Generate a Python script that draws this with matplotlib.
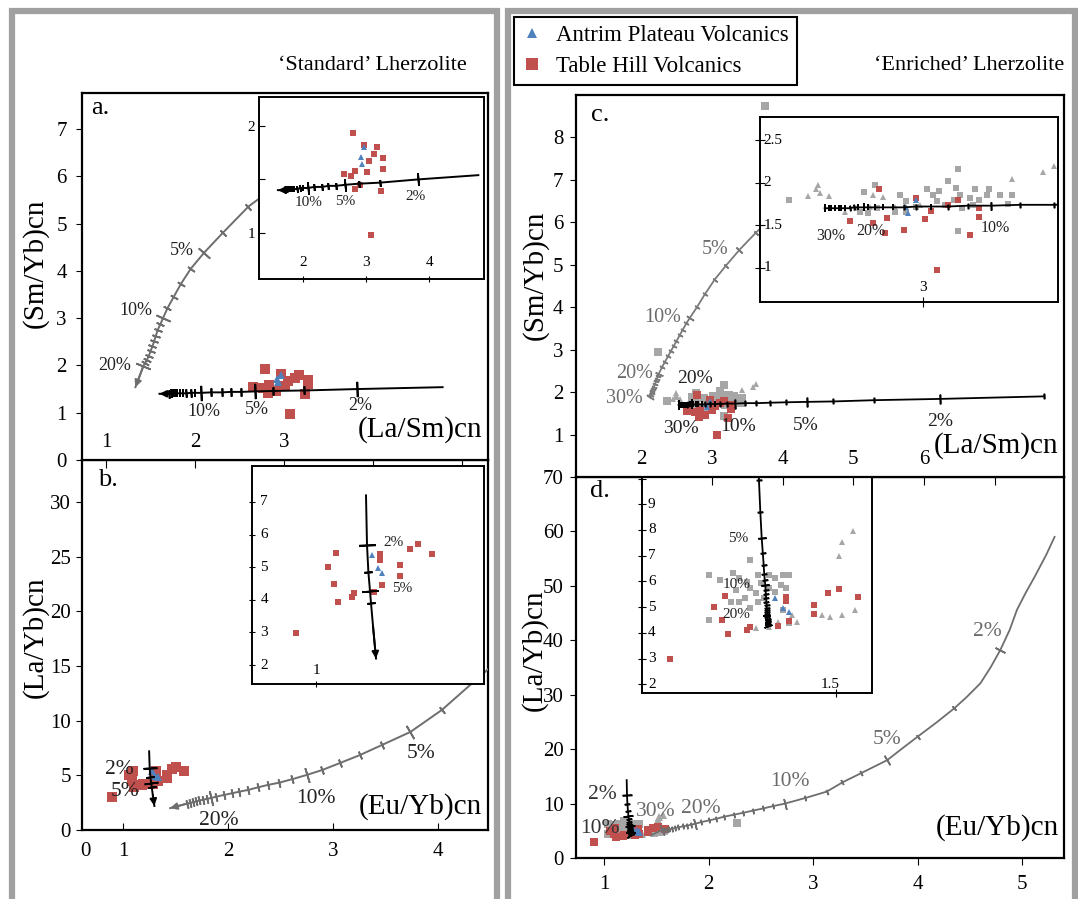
import numpy as np
import matplotlib
matplotlib.use("Agg")
import matplotlib.pyplot as plt
from matplotlib.patches import Rectangle
from matplotlib.transforms import blended_transform_factory

plt.rcParams['font.family'] = ['Liberation Serif', 'DejaVu Serif']

W, H = 1078, 899

# --- sample data -----------------------------------------------------------
# Table Hill Volcanics / Antrim Plateau Volcanics : (La/Sm)cn vs (Sm/Yb)cn
th_lasm = [2.79, 2.97, 3.17, 3.12, 3.27, 3.04, 3.27, 3.01, 2.83, 2.65, 2.76, 2.91, 2.82, 3.23, 3.07]
th_smyb = [1.93, 1.82, 1.80, 1.74, 1.70, 1.67, 1.60, 1.57, 1.58, 1.55, 1.53, 1.45, 1.41, 1.39, 0.98]
ap_lasm = [2.97, 2.92, 2.93]
ap_smyb = [1.80, 1.71, 1.64]

# (Eu/Yb)cn vs (La/Yb)cn
th_euyb = [0.90, 1.10, 1.06, 1.09, 1.11, 1.18, 1.19, 1.29, 1.32, 1.32, 1.33, 1.42, 1.42, 1.47, 1.51, 1.58]
th_layb = [2.98, 5.44, 5.02, 4.49, 3.94, 4.10, 4.22, 4.25, 5.40, 5.22, 4.45, 5.07, 4.73, 5.55, 5.72, 5.40]
ap_euyb = [1.28, 1.31, 1.33]
ap_layb = [5.37, 4.98, 4.81]

# comparison data (grey) for the 'enriched' panels
gs_lasm = [2.36, 2.72, 2.77, 2.70, 2.74, 2.89, 2.92, 3.02, 3.05, 3.08, 3.12, 3.17, 3.16, 3.18, 3.23,
           3.25, 3.32, 3.31, 3.37, 3.43, 3.41, 3.17, 2.87, 2.92, 2.97, 3.07, 3.11, 3.15, 3.19, 3.24,
           3.27, 2.78, 2.24, 3.75]
gs_smyb = [1.80, 1.89, 1.97, 1.66, 1.64, 1.86, 1.78, 1.92, 1.86, 1.90, 2.02, 2.16, 1.94, 1.86, 1.82,
           1.93, 1.92, 1.86, 1.85, 1.85, 1.75, 1.43, 1.66, 1.66, 1.72, 1.78, 1.74, 1.80, 1.70, 1.74,
           1.80, 1.70, 2.94, 8.75]
gt_lasm = [2.45, 2.49, 2.50, 2.51, 2.55, 2.68, 2.76, 2.81, 2.87, 3.43, 3.58, 3.63, 2.63, 2.75, 2.99]
gt_smyb = [1.84, 1.92, 1.97, 1.88, 1.84, 1.70, 1.86, 1.83, 1.72, 2.04, 2.13, 2.20, 1.66, 1.72, 1.74]

gs_euyb = [1.04, 1.08, 1.04, 1.19, 1.13, 1.15, 1.14, 1.17, 1.19, 1.21, 1.22, 1.23, 1.26, 1.28, 1.31,
           1.33, 1.30, 1.32, 1.28, 1.15, 1.26, 1.32, 1.19, 1.12, 1.26, 1.33, 1.31, 1.24, 1.18, 1.22, 2.27]
gs_layb = [6.25, 6.06, 4.50, 6.84, 6.31, 6.12, 5.67, 5.35, 5.74, 5.54, 5.21, 5.93, 6.25, 6.12, 6.25,
           6.25, 5.86, 5.74, 5.60, 5.21, 5.74, 5.35, 4.96, 5.21, 4.44, 4.37, 4.89, 5.35, 5.99, 6.25, 6.40]
gt_euyb = [1.21, 1.34, 1.36, 1.45, 1.48, 1.52, 1.57, 1.51, 1.52, 1.56, 1.29, 1.26]
gt_layb = [4.18, 4.70, 4.44, 4.70, 4.63, 4.70, 4.89, 6.97, 7.55, 7.97, 4.44, 4.24]

# --- melting curves (ticks: 0 none, 1 minor, 2 major) ----------------------
a_blk_x = [4.78, 3.82, 3.22, 2.88, 2.67, 2.52, 2.40, 2.30, 2.18, 2.07, 2.00, 1.95, 1.90, 1.86, 1.83,
           1.80, 1.77, 1.75, 1.73, 1.71, 1.60]
a_blk_y = [1.54, 1.50, 1.47, 1.46, 1.45, 1.44, 1.44, 1.43, 1.43, 1.42, 1.42, 1.42, 1.41, 1.41, 1.41,
           1.41, 1.41, 1.41, 1.41, 1.40, 1.40]
a_blk_t = [0, 2, 1, 1, 2, 1, 1, 1, 1, 2, 1, 1, 1, 1, 1, 1, 1, 1, 1, 1, 0]

a_gry_x = [2.95, 2.60, 2.31, 2.10, 1.95, 1.84, 1.76, 1.69, 1.64, 1.61, 1.58, 1.56, 1.54, 1.52, 1.50,
           1.48, 1.46, 1.44, 1.42, 1.33]
a_gry_y = [5.85, 5.36, 4.80, 4.38, 4.04, 3.72, 3.45, 3.21, 3.00, 2.87, 2.75, 2.63, 2.51, 2.40, 2.30,
           2.20, 2.12, 2.05, 1.99, 1.54]
a_gry_t = [0, 1, 1, 2, 1, 1, 1, 1, 2, 1, 1, 1, 1, 1, 1, 1, 1, 1, 2, 0]

b_blk_x = [1.250, 1.255, 1.262, 1.270, 1.275, 1.285, 1.300]
b_blk_y = [7.20, 5.68, 4.84, 4.27, 3.90, 3.20, 2.20]
b_blk_t = [0, 2, 1, 2, 1, 0, 0]

b_gry_x = [4.55, 4.04, 3.74, 3.47, 3.26, 3.07, 2.90, 2.75, 2.61, 2.49, 2.38, 2.29, 2.19, 2.11, 2.04,
           1.96, 1.89, 1.84, 1.80, 1.76, 1.73, 1.70, 1.67, 1.64, 1.61, 1.45]
b_gry_y = [15.3, 10.98, 8.97, 7.78, 6.86, 6.13, 5.49, 5.03, 4.64, 4.33, 4.12, 3.91, 3.66, 3.51, 3.36,
           3.20, 3.05, 2.93, 2.85, 2.77, 2.70, 2.62, 2.55, 2.48, 2.41, 2.00]
b_gry_t = [0, 1, 2, 1, 1, 1, 1, 2, 1, 1, 1, 1, 1, 1, 1, 1, 1, 2, 1, 1, 1, 1, 1, 1, 1, 0]

c_blk_x = [7.70, 6.23, 5.30, 4.72, 4.34, 4.05, 3.82, 3.63, 3.47, 3.33, 3.22, 3.12, 3.04, 2.97, 2.91,
           2.86, 2.81, 2.77, 2.74, 2.72, 2.69, 2.67, 2.65, 2.63, 2.61, 2.60, 2.58, 2.56, 2.55, 2.53]
c_blk_y = [1.90, 1.84, 1.81, 1.78, 1.77, 1.76, 1.75, 1.74, 1.74, 1.73, 1.73, 1.72, 1.72, 1.72, 1.71,
           1.71, 1.71, 1.71, 1.71, 1.71, 1.71, 1.71, 1.70, 1.70, 1.70, 1.70, 1.70, 1.70, 1.70, 1.70]
c_blk_t = [1, 2, 1, 1, 2, 1, 1, 1, 1, 2, 1, 1, 1, 1, 1, 1, 1, 1, 1, 2, 1, 1, 1, 1, 1, 1, 1, 1, 1, 2]

c_gry_x = [3.90, 3.62, 3.39, 3.20, 3.04, 2.90, 2.79, 2.69, 2.64, 2.59, 2.55, 2.50, 2.46, 2.42, 2.38,
           2.34, 2.30, 2.25, 2.24, 2.22, 2.21, 2.20, 2.18, 2.17, 2.16, 2.15, 2.14, 2.12]
c_gry_y = [6.20, 5.75, 5.35, 4.98, 4.65, 4.30, 4.00, 3.75, 3.62, 3.47, 3.35, 3.20, 3.08, 2.96, 2.84,
           2.72, 2.60, 2.43, 2.38, 2.31, 2.25, 2.19, 2.13, 2.07, 2.02, 1.97, 1.93, 1.88]
c_gry_t = [1, 1, 2, 1, 1, 1, 1, 2, 1, 1, 1, 1, 1, 1, 1, 1, 1, 2, 1, 1, 1, 1, 1, 1, 1, 1, 1, 2]

d_blk_x = [1.215, 1.218, 1.222, 1.227, 1.232, 1.236, 1.239, 1.241, 1.243, 1.245, 1.246, 1.247, 1.248,
           1.249, 1.250, 1.250, 1.251, 1.251, 1.252, 1.252, 1.252, 1.253, 1.253, 1.253, 1.254, 1.254,
           1.254, 1.254, 1.254, 1.255]
d_blk_y = [14.3, 11.6, 9.95, 8.70, 7.68, 7.10, 6.65, 6.30, 6.05, 5.85, 5.65, 5.50, 5.35, 5.20, 5.08,
           4.97, 4.88, 4.80, 4.73, 4.66, 4.60, 4.55, 4.50, 4.46, 4.42, 4.38, 4.35, 4.32, 4.29, 4.26]
d_blk_t = [0, 2, 1, 1, 2, 1, 1, 1, 1, 2, 1, 1, 1, 1, 1, 1, 1, 1, 1, 2, 1, 1, 1, 1, 1, 1, 1, 1, 1, 2]

d_gry_x = [5.31, 5.23, 5.12, 5.03, 4.95, 4.88, 4.79, 4.70, 4.60, 4.47, 4.35, 4.18, 4.00, 3.85, 3.71,
           3.46, 3.28, 3.13, 2.92, 2.73, 2.62, 2.52, 2.42, 2.33, 2.24, 2.15, 2.07, 2.00, 1.93, 1.87,
           1.83, 1.79, 1.75, 1.71, 1.68, 1.65, 1.62, 1.60, 1.57, 1.55, 1.45]
d_gry_y = [59.0, 55.7, 51.7, 48.6, 45.6, 41.9, 38.2, 35.1, 32.1, 29.6, 27.5, 24.9, 22.3, 20.1, 18.0,
           15.6, 13.9, 12.2, 11.0, 10.0, 9.55, 9.1, 8.7, 8.3, 7.95, 7.6, 7.2, 6.9, 6.6, 6.3,
           6.1, 5.95, 5.8, 5.65, 5.5, 5.4, 5.3, 5.2, 5.15, 5.1, 4.2]
d_gry_t = [0, 0, 0, 0, 0, 0, 2, 0, 0, 0, 1, 0, 1, 0, 2, 1, 1, 1, 1, 2, 1, 1, 1, 1, 1, 1, 1, 1, 1, 2,
           1, 1, 1, 1, 1, 1, 1, 1, 1, 2, 0]

RED, BLUE, GREY = '#c0504d', '#4f81bd', '#a6a6a6'
CURVE = '#6e6e6e'


def rect(x0, y0, x1, y1):
    return [x0 / W, 1 - y1 / H, (x1 - x0) / W, (y1 - y0) / H]


def draw_curve(ax, xs, ys, ticks, color, lw=1.4, minor=6, major=11, arrow=False):
    ax.plot(xs, ys, color=color, lw=lw, zorder=5)
    pts = ax.transData.transform(np.column_stack([xs, ys]))
    n = len(xs)
    for i, t in enumerate(ticks):
        if not t:
            continue
        d = pts[min(i + 1, n - 1)] - pts[max(i - 1, 0)]
        ang = np.degrees(np.arctan2(d[1], d[0]))
        ax.plot(xs[i], ys[i], ls='none', marker=(2, 2, ang), ms=major if t == 2 else minor,
                mec=color, mew=lw * 0.9, zorder=5)
    if arrow:
        ax.annotate('', xy=(xs[-1], ys[-1]), xytext=(xs[-2], ys[-2]), zorder=5,
                    arrowprops=dict(arrowstyle='-|>', color=color, lw=lw, mutation_scale=10,
                                    shrinkA=0, shrinkB=0))


def scatter_all(ax, x_th, y_th, x_ap, y_ap, ms, xs_g=None, ys_g=None, xt_g=None, yt_g=None):
    if xs_g is not None:
        ax.plot(xs_g, ys_g, 's', color=GREY, ms=ms, mew=0, zorder=3)
        ax.plot(xt_g, yt_g, '^', color=GREY, ms=ms * 0.85, mew=0, zorder=3)
    h1 = ax.plot(x_th, y_th, 's', color=RED, ms=ms, mew=0, zorder=3, label='Table Hill Volcanics')[0]
    h2 = ax.plot(x_ap, y_ap, '^', color=BLUE, ms=ms * 0.85, mew=0, zorder=4,
                 label='Antrim Plateau Volcanics')[0]
    return h1, h2


def labels(ax, txts, xs, ys, fs, color='#222222'):
    for t, x, y in zip(txts, xs, ys):
        ax.text(x, y, t, fontsize=fs, color=color, ha='center', va='center', zorder=6)


def xlab_inside(ax, vals, txts, frac, fs):
    tr = blended_transform_factory(ax.transData, ax.transAxes)
    for v, t in zip(vals, txts):
        ax.text(v, frac, t, transform=tr, fontsize=fs, ha='center', va='center', zorder=6)


def ylab_inside(ax, vals, txts, frac, fs):
    tr = blended_transform_factory(ax.transAxes, ax.transData)
    for v, t in zip(vals, txts):
        ax.text(frac, v, t, transform=tr, fontsize=fs, ha='left', va='center', zorder=6)


def frame(ax, lw=1.5):
    for s in ax.spines.values():
        s.set_linewidth(lw)
        s.set_color('black')


fig = plt.figure(figsize=(W / 100, H / 100), dpi=100)

# grey panel frames
for x0, x1 in [(11.5, 496.5), (508, 1075)]:
    fig.add_artist(Rectangle((x0 / W, -0.05), (x1 - x0) / W, 1.05 - 11 / H, transform=fig.transFigure,
                             fill=False, ec='#a0a0a0', lw=4.5))

# main axes
ax_b = fig.add_axes(rect(82, 460, 488, 830), zorder=1)
ax_a = fig.add_axes(rect(82, 93, 488, 460), zorder=2)
ax_d = fig.add_axes(rect(576, 477, 1064, 858), zorder=1)
in_d = fig.add_axes(rect(642, 477, 872, 693), zorder=2)
ax_c = fig.add_axes(rect(576, 95, 1064, 477), zorder=3)
in_a = fig.add_axes(rect(259, 97, 484, 279), zorder=4)
in_b = fig.add_axes(rect(252, 466, 484, 684), zorder=4)
in_c = fig.add_axes(rect(760, 117, 1058, 302), zorder=4)

ax_a.set_xlim(0.73, 5.29); ax_a.set_ylim(0, 7.76)
ax_b.set_xlim(0.61, 4.48); ax_b.set_ylim(0, 33.85)
ax_c.set_xlim(1.08, 7.98); ax_c.set_ylim(0, 9.0)
ax_d.set_xlim(0.73, 5.40); ax_d.set_ylim(0, 70)
in_a.set_xlim(1.30, 4.87); in_a.set_ylim(0.57, 2.27)
in_b.set_xlim(0.68, 1.84); in_b.set_ylim(1.42, 8.1)
in_c.set_xlim(2.22, 3.65); in_c.set_ylim(0.60, 2.77)
in_d.set_xlim(0.80, 1.63); in_d.set_ylim(1.66, 10.06)

for ax in [ax_a, ax_b, ax_c, ax_d]:
    frame(ax, 1.6)
for ax in [in_a, in_b, in_c, in_d]:
    frame(ax, 1.4)

# ---- panel a
scatter_all(ax_a, th_lasm, th_smyb, ap_lasm, ap_smyb, 6.5)
draw_curve(ax_a, a_blk_x, a_blk_y, a_blk_t, 'black', arrow=True)
draw_curve(ax_a, a_gry_x, a_gry_y, a_gry_t, CURVE, arrow=True)
labels(ax_a, ['2%', '5%', '10%'], [3.85, 2.69, 2.10], [1.16, 1.07, 1.02], 13)
labels(ax_a, ['5%', '10%', '20%'], [1.85, 1.33, 1.10], [4.42, 3.17, 2.00], 13)
ax_a.set_yticks(range(0, 8))
ax_a.set_xticks([1, 2, 3, 4, 5])
ax_a.tick_params(axis='y', direction='out', length=4, pad=7, labelsize=15)
ax_a.tick_params(axis='x', direction='out', length=6, labelbottom=False)
xlab_inside(ax_a, [1, 2, 3], ['1', '2', '3'], 0.049, 15)

scatter_all(in_a, th_lasm, th_smyb, ap_lasm, ap_smyb, 4.8)
draw_curve(in_a, a_blk_x, a_blk_y, a_blk_t, 'black', minor=5, major=9, arrow=True)
labels(in_a, ['10%', '5%', '2%'], [2.08, 2.67, 3.78], [1.28, 1.29, 1.34], 11)
in_a.set_yticks([1, 1.5, 2])
in_a.set_yticklabels(['1', '', '2'])
in_a.set_xticks([2, 3, 4])
in_a.tick_params(axis='y', direction='in', length=4, pad=3, labelsize=11)
in_a.tick_params(axis='x', direction='inout', length=5, labelbottom=False)
xlab_inside(in_a, [2, 3, 4], ['2', '3', '4'], 0.093, 11)

# ---- panel b
scatter_all(ax_b, th_euyb, th_layb, ap_euyb, ap_layb, 6.5)
draw_curve(ax_b, b_gry_x, b_gry_y, b_gry_t, CURVE, arrow=True)
draw_curve(ax_b, b_blk_x, b_blk_y, b_blk_t, 'black', minor=6, major=10, arrow=True)
labels(ax_b, ['2%', '5%'], [0.97, 1.02], [5.5, 3.5], 15.5)
labels(ax_b, ['5%', '10%', '20%'], [3.84, 2.84, 1.91], [7.0, 2.9, 0.9], 15.5)
ax_b.set_yticks(range(0, 31, 5))
ax_b.set_xticks([0.64, 1, 2, 3, 4])
ax_b.set_xticklabels(['0', '1', '2', '3', '4'])
ax_b.tick_params(axis='y', direction='out', length=4, pad=4, labelsize=15)
ax_b.tick_params(axis='x', direction='in', length=5, pad=9, labelsize=15)
ax_b.xaxis.get_major_ticks()[0].tick1line.set_visible(False)

scatter_all(in_b, th_euyb, th_layb, ap_euyb, ap_layb, 4.8)
draw_curve(in_b, b_blk_x, b_blk_y, b_blk_t, 'black', minor=6, major=12, arrow=True)
labels(in_b, ['2%', '5%'], [1.39, 1.43], [5.76, 4.35], 11)
in_b.set_yticks(range(2, 8))
in_b.set_xticks([1])
in_b.tick_params(direction='inout', length=5, labelleft=False, labelbottom=False)
ylab_inside(in_b, range(2, 8), [str(v) for v in range(2, 8)], 0.036, 11)
xlab_inside(in_b, [1], ['1'], 0.064, 11)

# ---- panel c
h_th, h_ap = scatter_all(ax_c, th_lasm, th_smyb, ap_lasm, ap_smyb, 5.5, gs_lasm, gs_smyb, gt_lasm, gt_smyb)
draw_curve(ax_c, c_gry_x, c_gry_y, c_gry_t, '#7a7a7a', lw=1.3, minor=4, major=6)
draw_curve(ax_c, c_blk_x, c_blk_y, c_blk_t, 'black', lw=1.3, minor=4, major=7)
labels(ax_c, ['20%', '30%', '10%', '5%', '2%'], [2.76, 2.56, 3.37, 4.33, 6.23],
       [2.32, 1.14, 1.18, 1.22, 1.30], 14)
labels(ax_c, ['5%', '10%', '20%', '30%'], [3.05, 2.31, 1.91, 1.76], [5.37, 3.75, 2.43, 1.85], 14.5,
       color='#6b6b6b')
ax_c.set_yticks(range(1, 9))
ax_c.set_xticks(range(2, 8))
ax_c.tick_params(axis='y', direction='out', length=4, pad=5, labelsize=15)
ax_c.tick_params(axis='x', direction='out', length=6, labelbottom=False)
xlab_inside(ax_c, range(2, 7), ['2', '3', '4', '5', '6'], 0.045, 15)

scatter_all(in_c, th_lasm, th_smyb, ap_lasm, ap_smyb, 4.8, gs_lasm, gs_smyb, gt_lasm, gt_smyb)
draw_curve(in_c, c_blk_x, c_blk_y, c_blk_t, 'black', lw=1.3, minor=4, major=6)
labels(in_c, ['30%', '20%', '10%'], [2.56, 2.75, 3.35], [1.37, 1.43, 1.47], 11.5)
in_c.set_yticks([1, 1.5, 2, 2.5])
in_c.set_xticks([3])
in_c.tick_params(direction='inout', length=7, labelleft=False, labelbottom=False)
ylab_inside(in_c, [1, 1.5, 2, 2.5], ['1', '1.5', '2', '2.5'], 0.013, 11)
xlab_inside(in_c, [3], ['3'], 0.076, 11)

# ---- panel d
scatter_all(ax_d, th_euyb, th_layb, ap_euyb, ap_layb, 6, gs_euyb, gs_layb, gt_euyb, gt_layb)
draw_curve(ax_d, d_gry_x, d_gry_y, d_gry_t, '#6e6e6e', lw=1.3, minor=4, major=8)
draw_curve(ax_d, d_blk_x, d_blk_y, d_blk_t, 'black', lw=1.3, minor=4, major=7)
labels(ax_d, ['2%', '10%'], [0.98, 0.96], [11.6, 5.45], 15.5, color='#333333')
labels(ax_d, ['30%', '20%', '10%', '5%', '2%'], [1.49, 1.92, 2.78, 3.71, 4.67],
       [8.5, 9.1, 14.0, 21.7, 41.6], 15.5, color='#6b6b6b')
ax_d.set_yticks(range(0, 71, 10))
ax_d.set_xticks(range(1, 6))
ax_d.tick_params(axis='y', direction='out', length=4, pad=5, labelsize=15)
ax_d.tick_params(axis='x', direction='out', length=5, pad=7, labelsize=15)

scatter_all(in_d, th_euyb, th_layb, ap_euyb, ap_layb, 4.8, gs_euyb, gs_layb, gt_euyb, gt_layb)
draw_curve(in_d, d_blk_x, d_blk_y, d_blk_t, 'black', lw=1.3, minor=4, major=6)
labels(in_d, ['5%', '10%', '20%'], [1.146, 1.14, 1.14], [7.68, 5.86, 4.72], 11)
in_d.set_yticks(range(2, 11))
in_d.set_xticks([1.5])
in_d.tick_params(direction='inout', length=6, labelleft=False, labelbottom=False)
ylab_inside(in_d, range(2, 10), [str(v) for v in range(2, 10)], 0.026, 11)
xlab_inside(in_d, [1.48], ['1.5'], 0.04, 11)

# ---- texts in pixel space
def ftext(x, y, s, **kw):
    fig.text(x / W, 1 - y / H, s, **kw)

ftext(100, 108, 'a.', fontsize=19, ha='center', va='center', zorder=10)
ftext(108, 480, 'b.', fontsize=19, ha='center', va='center', zorder=10)
ftext(600, 115, 'c.', fontsize=19, ha='center', va='center', zorder=10)
ftext(600, 491, 'd.', fontsize=19, ha='center', va='center', zorder=10)

ftext(420, 430, '(La/Sm)cn', fontsize=21, ha='center', va='center', zorder=10)
ftext(420, 807, '(Eu/Yb)cn', fontsize=21, ha='center', va='center', zorder=10)
ftext(996, 446, '(La/Sm)cn', fontsize=21, ha='center', va='center', zorder=10)
ftext(997, 828, '(Eu/Yb)cn', fontsize=21, ha='center', va='center', zorder=10)
ftext(35, 263, '(Sm/Yb)cn', fontsize=21, rotation=90, ha='center', va='center')
ftext(35, 637, '(La/Yb)cn', fontsize=21, rotation=90, ha='center', va='center')
ftext(535, 275, '(Sm/Yb)cn', fontsize=21, rotation=90, ha='center', va='center')
ftext(534, 650, '(La/Yb)cn', fontsize=21, rotation=90, ha='center', va='center')

ftext(467, 65, '\u2018Standard\u2019 Lherzolite', fontsize=16, ha='right', va='center')
ftext(1064, 65, '\u2018Enriched\u2019 Lherzolite', fontsize=16, ha='right', va='center')

leg = fig.legend([h_ap, h_th], ['Antrim Plateau Volcanics', 'Table Hill Volcanics'],
                 loc='upper left', bbox_to_anchor=(514 / W, 1 - 17 / H), fontsize=16.5,
                 frameon=True, fancybox=False, edgecolor='black', framealpha=1,
                 borderpad=0.35, handlelength=0.9, handletextpad=0.6, labelspacing=0.45,
                 borderaxespad=0, markerscale=1.6)
leg.get_frame().set_linewidth(1.5)

fig.savefig('out.png', dpi=100, facecolor='white')
